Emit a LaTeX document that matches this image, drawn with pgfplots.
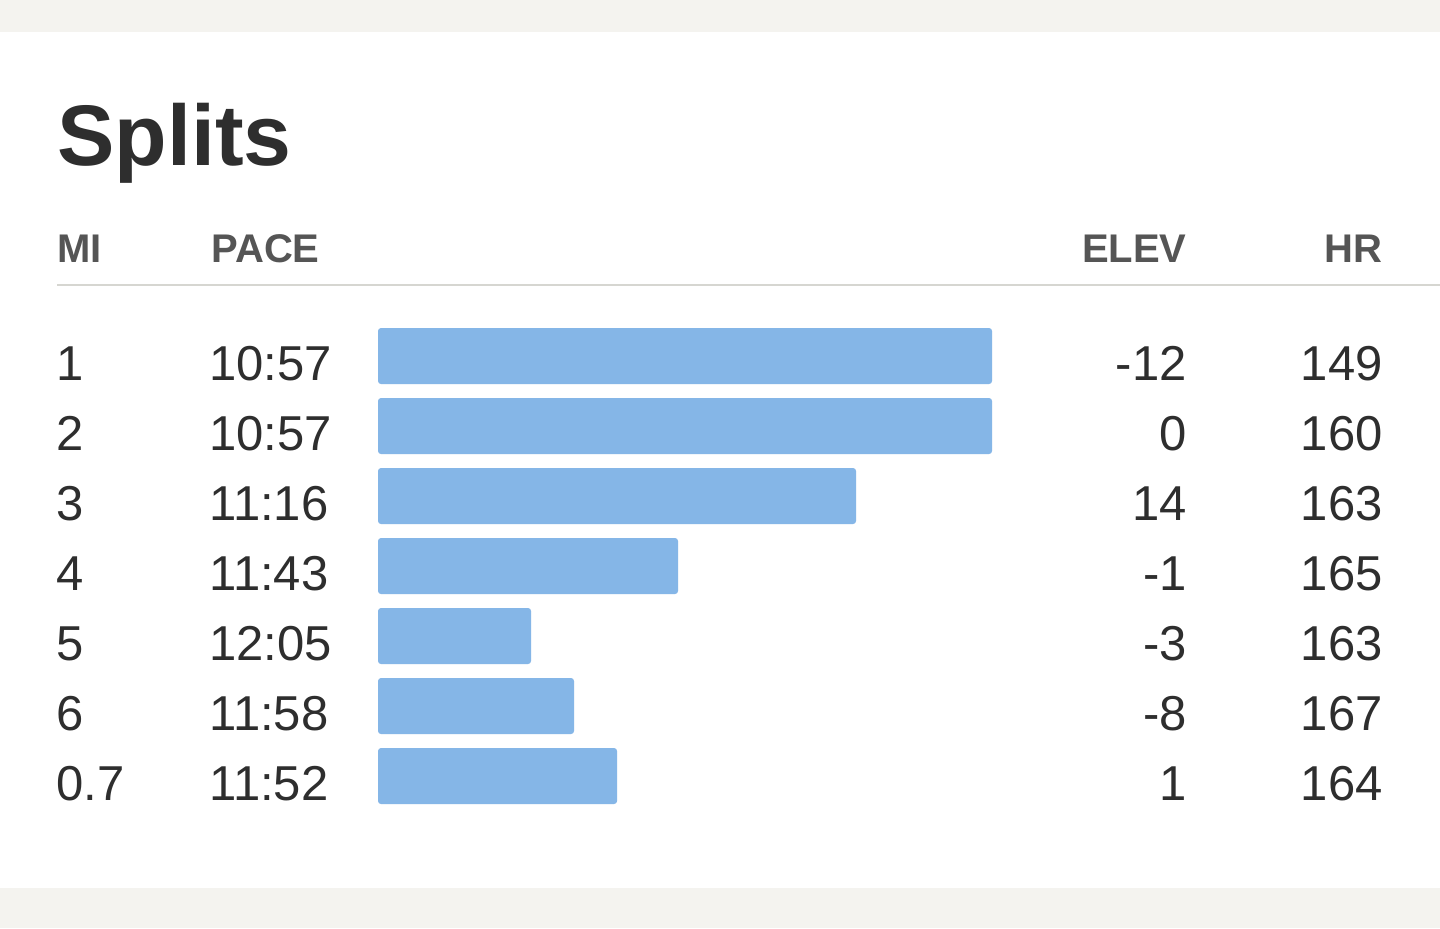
\documentclass[border=0pt]{standalone}
\usepackage{pgfplots}
\pgfplotsset{compat=1.18}
\usepackage{fontspec}
\setmainfont{Liberation Sans}
\definecolor{barblue}{HTML}{85B6E7}
\definecolor{txt}{HTML}{2E2E2E}
\definecolor{hdr}{HTML}{555555}
\definecolor{rule}{HTML}{D6D6D1}
\definecolor{band}{HTML}{F4F3EF}
\begin{document}
\begin{tikzpicture}
\begin{scope}[x=0.5bp,y=-0.5bp]
\useasboundingbox (0,0) rectangle (1440,928);
\fill[white] (0,0) rectangle (1440,928);
\fill[band] (0,0) rectangle (1440,32);
\fill[band] (0,888) rectangle (1440,928);
% title
\node[anchor=base west,inner sep=0,text=txt,font=\fontsize{43bp}{52bp}\selectfont\bfseries] at (57,165) {Splits};
% headers
\begin{scope}[every node/.style={inner sep=0,text=hdr,font=\fontsize{20bp}{24bp}\selectfont\bfseries}]
\node[anchor=base west] at (57,262) {MI};
\node[anchor=base west] at (211,262) {PACE};
\node[anchor=base east] at (1187,262) {ELEV};
\node[anchor=base east] at (1383,262) {HR};
\end{scope}
\draw[rule,line width=1bp] (57,285) -- (1440,285);
% rows
\begin{scope}[every node/.style={inner sep=0,text=txt,font=\fontsize{24.5bp}{30bp}\selectfont}]
\foreach \mi/\pace/\elev/\hr [count=\i from 0] in {1/10:57/-12/149, 2/10:57/0/160, 3/11:16/14/163, 4/11:43/-1/165, 5/12:05/-3/163, 6/11:58/-8/167, 0.7/11:52/1/164}{
  \node[anchor=base west] at (56,380+70*\i) {\mi};
  \node[anchor=base west] at (209,380+70*\i) {\pace};
  \node[anchor=base east] at (1187,380+70*\i) {\elev};
  \node[anchor=base east] at (1383,380+70*\i) {\hr};
}
\end{scope}
\end{scope}
\begin{axis}[
  at={(189bp,-164bp)}, anchor=north west,
  scale only axis, width=307bp, height=238bp,
  hide axis, clip=false,
  xmin=0, xmax=100, ymin=0.6, ymax=7.4, y dir=reverse,
  xbar, bar width=28bp, bar shift=0pt,
]
\addplot[fill=barblue, draw=none, rounded corners=1.5bp] coordinates {
  (100,1) (100,2) (77.85,3) (48.86,4) (24.92,5) (31.92,6) (38.93,7)
};
\end{axis}
\end{tikzpicture}
\end{document}
